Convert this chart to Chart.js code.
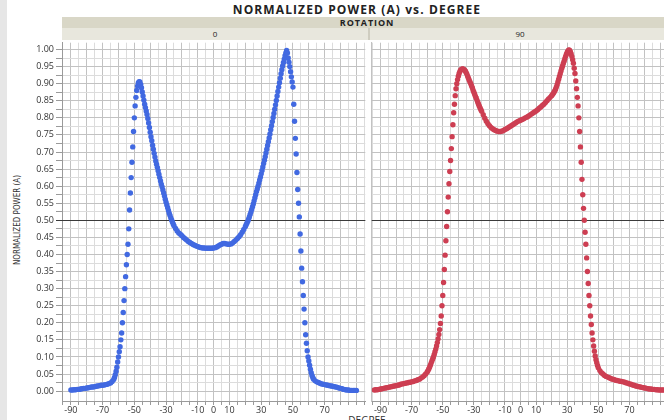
<!DOCTYPE html>
<html><head><meta charset="utf-8">
<script src="https://cdn.jsdelivr.net/npm/chart.js@4.4.0/dist/chart.umd.min.js"></script>
<style>
html,body{margin:0;padding:0;width:664px;height:420px;overflow:hidden;background:#fff;font-family:'Open Sans',sans-serif;color:#222;}
#wrap{position:relative;width:664px;height:420px;overflow:hidden;}
.abs{position:absolute;white-space:nowrap;}
canvas{position:absolute;}
</style></head><body><div id="wrap">
<div class="abs" style="left:0;top:0;width:7px;height:420px;background:#e6e6e6"></div>
<div class="abs" style="left:57px;width:600px;top:2px;text-align:center;font-weight:bold;font-size:12px;letter-spacing:1.1px;line-height:15px;">NORMALIZED POWER (A) vs. DEGREE</div>
<div class="abs" style="left:62px;top:17px;width:610px;height:11px;background:#d9d7c7;text-align:center;font-weight:bold;font-size:9px;letter-spacing:0.9px;line-height:11px;">ROTATION</div>
<div class="abs" style="left:62px;top:28px;width:306px;height:12px;background:#e8e7dd;text-align:center;font-size:8px;line-height:12px;">0</div>
<div class="abs" style="left:368px;top:28px;width:2px;height:12px;background:#cfcdc0;"></div>
<div class="abs" style="left:370px;top:28px;width:300px;height:12px;background:#e8e7dd;text-align:center;font-size:8px;line-height:12px;">90</div>
<div class="abs" style="left:-32px;top:214px;width:100px;height:12px;transform:rotate(-90deg);text-align:center;font-family:'Liberation Sans Narrow','DejaVu Sans Condensed',sans-serif;font-size:8px;line-height:12px;color:#333;">NORMALIZED POWER (A)</div>
<div class="abs" style="left:317px;top:414px;width:100px;text-align:center;font-size:10px;line-height:12px;color:#333;">DEGREE</div>
<canvas id="c0" width="368" height="380" style="left:0;top:40px;"></canvas>
<canvas id="c1" width="302" height="380" style="left:369px;top:40px;"></canvas>
</div>
<script>
const xTickLabels = [-90,-70,-50,-30,-10,0,10,30,50,70];

const blueDeg = [-90,-89,-88,-87,-86,-85,-84,-83,-82,-81,-80,-79,-78,-77,-76,-75,-74,-73,-72,-71,-70,-69,-68,-67,-66,-65,-64,-63,
-62.5,-62,-61.5,-61,-60.5,-60,-59.5,-59,-58.5,-58,-57.5,-57,-56.5,-56,-55.5,-55,-54.5,-54,-53.5,-53,-52.5,-52,-51.5,-51,-50.5,-50,-49.5,-49,-48.5,-48,-47.5,-47,-46.5,-46,-45.5,-45,-44.5,-44,-43.5,-43,-42.5,-42,-41.5,-41,-40.5,-40,-39.5,-39,-38.5,-38,-37.5,-37,-36.5,-36,-35.5,-35,-34.5,-34,-33.5,-33,-32.5,-32,-31.5,-31,-30.5,-30,-29.5,-29,-28.5,-28,-27.5,-27,-26.5,-26,-25.5,-25,
-24,-23,-22,-21,-20,-19,-18,-17,-16,-15,-14,-13,-12,-11,-10,-9,-8,-7,-6,-5,-4,-3,-2,-1,0,1,2,3,4,5,6,7,8,9,10,11,12,13,14,15,16,17,18,19,20,
20.5,21,21.5,22,22.5,23,23.5,24,24.5,25,25.5,26,26.5,27,27.5,28,28.5,29,29.5,30,30.5,31,31.5,32,32.5,33,33.5,34,34.5,35,35.5,36,36.5,37,37.5,38,38.5,39,39.5,40,40.5,41,41.5,42,42.5,43,43.5,44,44.5,45,45.5,46,46.5,47,47.5,48,48.5,49,49.5,50,50.5,51,51.5,52,52.5,53,53.5,54,54.5,55,55.5,56,56.5,57,57.5,58,58.5,59,59.5,60,60.5,61,61.5,62,62.5,
63,64,65,66,67,68,69,70,71,72,73,74,75,76,77,78,79,80,81,82,83,84,85,86,87,88,89,90];
const bluePow = [.003,.003,.004,.004,.005,.005,.006,.007,.008,.008,.009,.010,.011,.012,.012,.013,.014,.015,.016,.017,.017,.018,.019,.020,.022,.024,.028,.034,
.040,.048,.058,.070,.085,.100,.115,.130,.150,.170,.200,.230,.265,.300,.335,.370,.400,.430,.475,.530,.580,.625,.670,.715,.760,.800,.835,.860,.880,.893,.902,.906,.905,.898,.888,.876,.864,.852,.840,.830,.820,.810,.798,.785,.772,.758,.745,.733,.720,.708,.696,.685,.674,.664,.655,.645,.635,.625,.615,.606,.598,.589,.580,.571,.562,.553,.545,.537,.529,.521,.514,.507,.501,.495,.489,.484,
.476,.469,.463,.459,.455,.450,.446,.442,.438,.435,.432,.429,.427,.425,.423,.421,.420,.419,.419,.418,.418,.418,.418,.418,.419,.420,.422,.425,.428,.430,.432,.432,.431,.430,.430,.431,.434,.438,.442,.447,.452,.458,.465,.473,.482,
.487,.492,.497,.503,.510,.517,.524,.532,.540,.548,.557,.566,.575,.584,.592,.600,.609,.618,.627,.636,.646,.656,.666,.676,.686,.697,.708,.719,.730,.741,.753,.765,.777,.789,.801,.813,.825,.838,.851,.864,.877,.890,.903,.916,.929,.941,.952,.962,.972,.982,.990,.997,.990,.975,.963,.950,.935,.920,.905,.890,.840,.790,.740,.694,.640,.590,.550,.510,.460,.410,.360,.320,.280,.240,.200,.165,.140,.118,.100,.088,.076,.064,.054,.046,.040,
.035,.030,.027,.025,.023,.021,.020,.019,.018,.017,.016,.015,.014,.013,.012,.011,.009,.008,.007,.005,.004,.003,.003,.002,.002,.002,.002,.002];

const redDeg = [-94,-93,-92,-91,-90,-89,-88,-87,-86,-85,-84,-83,-82,-81,-80,-79,-78,-77,-76,-75,-74,-73,-72,-71,-70,-69,-68,-67,-66,-65,-64,-63,-62,-61,-60,
-59.5,-59,-58.5,-58,-57.5,-57,-56.5,-56,-55.5,-55,-54.5,-54,-53.5,-53,-52.5,-52,-51.5,-51,-50.5,-50,-49.5,-49,-48.5,-48,-47.5,-47,-46.5,-46,-45.5,-45,-44.5,-44,-43.5,-43,-42.5,-42,-41.5,-41,-40.5,-40,-39.5,-39,-38.5,-38,-37.5,-37,-36.5,-36,-35.5,-35,-34.5,-34,-33.5,-33,-32.5,-32,-31.5,-31,-30.5,-30,-29.5,-29,-28.5,-28,-27.5,-27,-26.5,-26,-25.5,-25,
-24,-23,-22,-21,-20,-19,-18,-17,-16,-15,-14,-13,-12,-11,-10,-9,-8,-7,-6,-5,-4,-3,-2,-1,0,1,2,3,4,5,6,7,8,9,10,11,12,13,14,15,16,17,18,19,20,
20.5,21,21.5,22,22.5,23,23.5,24,24.5,25,25.5,26,26.5,27,27.5,28,28.5,29,29.5,30,30.5,31,31.5,32,32.5,33,33.5,34,34.5,35,35.5,36,36.5,37,37.5,38,38.5,39,39.5,40,40.5,41,41.5,42,42.5,43,43.5,44,44.5,45,45.5,46,46.5,47,47.5,48,48.5,49,49.5,50,
51,52,53,54,55,56,57,58,59,60,61,62,63,64,65,66,67,68,69,70,71,72,73,74,75,76,77,78,79,80,81,82,83,84,85,86,87,88,89,90,91,92];
const redPow = [.003,.004,.004,.005,.006,.007,.008,.009,.010,.011,.012,.013,.014,.015,.016,.017,.018,.020,.021,.022,.023,.024,.025,.026,.027,.028,.030,.031,.033,.035,.038,.041,.045,.050,.056,
.060,.065,.070,.076,.082,.088,.094,.100,.107,.115,.123,.132,.142,.153,.166,.180,.198,.220,.250,.280,.318,.356,.398,.440,.482,.525,.568,.607,.643,.675,.710,.745,.780,.815,.840,.865,.885,.900,.912,.922,.930,.936,.940,.942,.943,.943,.942,.940,.937,.933,.928,.922,.916,.910,.905,.900,.894,.888,.881,.875,.869,.863,.858,.852,.846,.840,.834,.829,.824,.819,
.809,.799,.790,.783,.777,.772,.768,.765,.763,.761,.760,.760,.761,.763,.766,.768,.771,.774,.777,.780,.783,.786,.789,.791,.793,.795,.797,.800,.802,.805,.808,.811,.814,.817,.820,.824,.828,.832,.836,.840,.845,.850,.855,.860,.865,
.868,.871,.875,.879,.884,.890,.897,.905,.913,.921,.929,.937,.945,.952,.959,.966,.973,.980,.986,.992,.996,.999,.998,.994,.988,.980,.970,.960,.945,.930,.908,.885,.860,.835,.800,.760,.715,.670,.620,.575,.535,.500,.465,.430,.390,.350,.315,.280,.250,.220,.195,.170,.150,.132,.117,.103,.092,.083,.075,.068,
.060,.054,.050,.046,.043,.041,.039,.037,.035,.034,.032,.031,.030,.029,.028,.027,.026,.024,.023,.021,.020,.018,.017,.015,.014,.013,.012,.011,.010,.009,.008,.007,.006,.006,.005,.005,.004,.004,.003,.003,.003,.003];

const xGrid = []; for (let v = -95; v <= 95; v += 5) xGrid.push(v);
const yGrid = []; for (let k = 0; k <= 40; k++) yGrid.push(k / 40);

function pts(xs, ys){ return xs.map((x,i)=>({x:x, y:ys[i]})); }

const refLine = {
  id:'refLine',
  beforeDatasetsDraw(chart, args, opts){
    const ctx = chart.ctx, a = chart.chartArea;
    const y = Math.round(chart.scales.y.getPixelForValue(0.5)) + 0.5;
    ctx.save(); ctx.strokeStyle = '#3a3a3a'; ctx.lineWidth = 1;
    ctx.beginPath(); ctx.moveTo(a.left - (opts.ext||0), y); ctx.lineTo(a.right, y); ctx.stroke(); ctx.restore();
  }
};

function makeChart(id, xs, ys, color, xmin, xmax, showY){
  return new Chart(document.getElementById(id), {
    type:'scatter',
    data:{datasets:[{data:pts(xs,ys), backgroundColor:color, borderWidth:0, pointRadius:2.7, pointHoverRadius:2.7}]},
    plugins:[refLine],
    options:{
      responsive:false, animation:false, events:[],
      layout:{padding:{top:1, left:0, right:0, bottom:0}},
      plugins:{legend:{display:false}, tooltip:{enabled:false}, refLine:{ext: showY?6:0}},
      scales:{
        x:{type:'linear', min:xmin, max:xmax,
          afterBuildTicks(s){ s.ticks = xGrid.map(v=>({value:v})); },
          afterFit(s){ s.height = 19; s.paddingLeft = 0; s.paddingRight = 0; },
          ticks:{autoSkip:false, maxRotation:0, minRotation:0, padding:0, color:'#333', font:{family:'Open Sans', size:9},
            callback(v){ return xTickLabels.includes(v) ? String(v) : ''; }},
          grid:{color(c){ return (c.tick && c.tick.value % 10 === 0) ? '#c2c2c2' : '#dcdcdc'; }, tickLength:4, tickColor:'#9a9a9a'},
          border:{color:'#9a9a9a'}
        },
        y:{type:'linear', min:-0.029, max:1.02,
          afterBuildTicks(s){ s.ticks = yGrid.map(v=>({value:v})); },
          afterFit(s){ s.width = showY ? 62 : 2; s.paddingTop = 0; s.paddingBottom = 0; },
          ticks:{display: showY, autoSkip:false, padding:2, color:'#333', font:{family:'Open Sans', size:9},
            callback(v){ return (showY && Math.round(v*1000) % 50 === 0) ? v.toFixed(2) : ''; }},
          grid:{color(c){ return (c.tick && Math.round(c.tick.value*1000) % 50 === 0) ? '#c2c2c2' : '#dcdcdc'; }, tickLength: showY ? 6 : 0, drawTicks: showY, tickColor:'#9a9a9a'},
          border:{color: showY ? '#9a9a9a' : '#c2c2c2'}
        }
      }
    }
  });
}

makeChart('c0', blueDeg, bluePow, 'rgb(65,105,225)', -95.6, 95.6, true);
makeChart('c1', redDeg, redPow, 'rgb(205,62,82)', -95.7, 95, false);
</script>
</body></html>
